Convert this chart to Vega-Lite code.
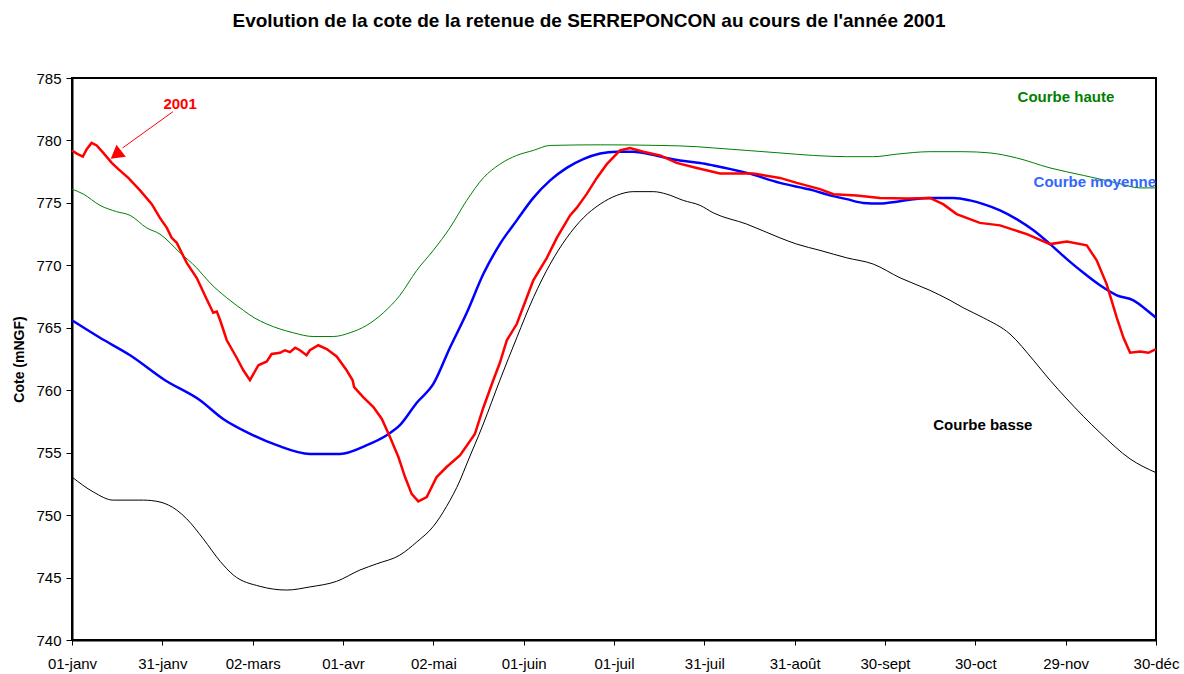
{
  "$schema": "https://vega.github.io/schema/vega-lite/v6.json",
  "width": 1084,
  "height": 562,
  "autosize": {"type": "none"},
  "padding": {"left": 72, "top": 78, "right": 28, "bottom": 34},
  "background": "white",
  "config": {
    "view": {"stroke": "black", "strokeWidth": 2},
    "font": "Liberation Sans",
    "axis": {"grid": false, "domainColor": "black", "domainWidth": 2, "tickColor": "black", "tickWidth": 1, "labelColor": "black", "labelFont": "Liberation Sans", "labelFontSize": 15, "titleFont": "Liberation Sans"}
  },
  "title": {
    "text": "Evolution de la cote de la retenue de SERREPONCON au cours de l'année 2001",
    "font": "Liberation Sans",
    "fontSize": 19,
    "fontWeight": "bold",
    "color": "black",
    "anchor": "middle",
    "dx": -25,
    "offset": 40
  },
  "datasets": {
    "curves": [
      {"series": "Courbe haute", "day": 0, "value": 776.1},
      {"series": "Courbe haute", "day": 3.8, "value": 775.7},
      {"series": "Courbe haute", "day": 9.3, "value": 774.8},
      {"series": "Courbe haute", "day": 14.8, "value": 774.3},
      {"series": "Courbe haute", "day": 19.3, "value": 774.0},
      {"series": "Courbe haute", "day": 24.8, "value": 773.0},
      {"series": "Courbe haute", "day": 29.2, "value": 772.5},
      {"series": "Courbe haute", "day": 35.9, "value": 771.0},
      {"series": "Courbe haute", "day": 41.4, "value": 769.8},
      {"series": "Courbe haute", "day": 45.8, "value": 768.6},
      {"series": "Courbe haute", "day": 51.4, "value": 767.4},
      {"series": "Courbe haute", "day": 56.9, "value": 766.4},
      {"series": "Courbe haute", "day": 60.5, "value": 765.8},
      {"series": "Courbe haute", "day": 64.7, "value": 765.3},
      {"series": "Courbe haute", "day": 73.5, "value": 764.6},
      {"series": "Courbe haute", "day": 80.1, "value": 764.3},
      {"series": "Courbe haute", "day": 86.8, "value": 764.3},
      {"series": "Courbe haute", "day": 92.3, "value": 764.6},
      {"series": "Courbe haute", "day": 97.9, "value": 765.2},
      {"series": "Courbe haute", "day": 103.4, "value": 766.2},
      {"series": "Courbe haute", "day": 108.9, "value": 767.6},
      {"series": "Courbe haute", "day": 114.5, "value": 769.6},
      {"series": "Courbe haute", "day": 120.0, "value": 771.2},
      {"series": "Courbe haute", "day": 125.5, "value": 773.0},
      {"series": "Courbe haute", "day": 131.1, "value": 775.2},
      {"series": "Courbe haute", "day": 136.6, "value": 777.0},
      {"series": "Courbe haute", "day": 142.1, "value": 778.1},
      {"series": "Courbe haute", "day": 147.7, "value": 778.8},
      {"series": "Courbe haute", "day": 153.2, "value": 779.2},
      {"series": "Courbe haute", "day": 158.8, "value": 779.6},
      {"series": "Courbe haute", "day": 175.4, "value": 779.65},
      {"series": "Courbe haute", "day": 195.3, "value": 779.6},
      {"series": "Courbe haute", "day": 207.5, "value": 779.5},
      {"series": "Courbe haute", "day": 213.0, "value": 779.4},
      {"series": "Courbe haute", "day": 224.1, "value": 779.2},
      {"series": "Courbe haute", "day": 235.1, "value": 779.0},
      {"series": "Courbe haute", "day": 246.2, "value": 778.8},
      {"series": "Courbe haute", "day": 257.3, "value": 778.7},
      {"series": "Courbe haute", "day": 266.1, "value": 778.7},
      {"series": "Courbe haute", "day": 273.9, "value": 778.9},
      {"series": "Courbe haute", "day": 284.9, "value": 779.1},
      {"series": "Courbe haute", "day": 296.0, "value": 779.1},
      {"series": "Courbe haute", "day": 304.9, "value": 779.0},
      {"series": "Courbe haute", "day": 313.7, "value": 778.6},
      {"series": "Courbe haute", "day": 324.8, "value": 777.8},
      {"series": "Courbe haute", "day": 335.9, "value": 777.2},
      {"series": "Courbe haute", "day": 347.0, "value": 776.6},
      {"series": "Courbe haute", "day": 354.7, "value": 776.2},
      {"series": "Courbe haute", "day": 360, "value": 776.2},

      {"series": "Courbe moyenne", "day": 0, "value": 765.6},
      {"series": "Courbe moyenne", "day": 9.3, "value": 764.2},
      {"series": "Courbe moyenne", "day": 19.3, "value": 762.8},
      {"series": "Courbe moyenne", "day": 30.9, "value": 760.8},
      {"series": "Courbe moyenne", "day": 42.5, "value": 759.2},
      {"series": "Courbe moyenne", "day": 50.2, "value": 757.7},
      {"series": "Courbe moyenne", "day": 58.0, "value": 756.65},
      {"series": "Courbe moyenne", "day": 68.0, "value": 755.6},
      {"series": "Courbe moyenne", "day": 79.0, "value": 754.9},
      {"series": "Courbe moyenne", "day": 89.0, "value": 754.9},
      {"series": "Courbe moyenne", "day": 97.9, "value": 755.6},
      {"series": "Courbe moyenne", "day": 104.5, "value": 756.4},
      {"series": "Courbe moyenne", "day": 108.9, "value": 757.2},
      {"series": "Courbe moyenne", "day": 114.5, "value": 759.0},
      {"series": "Courbe moyenne", "day": 120.0, "value": 760.5},
      {"series": "Courbe moyenne", "day": 125.5, "value": 763.4},
      {"series": "Courbe moyenne", "day": 131.1, "value": 766.2},
      {"series": "Courbe moyenne", "day": 136.6, "value": 769.3},
      {"series": "Courbe moyenne", "day": 142.1, "value": 771.7},
      {"series": "Courbe moyenne", "day": 147.7, "value": 773.6},
      {"series": "Courbe moyenne", "day": 153.2, "value": 775.4},
      {"series": "Courbe moyenne", "day": 158.8, "value": 776.8},
      {"series": "Courbe moyenne", "day": 164.3, "value": 777.8},
      {"series": "Courbe moyenne", "day": 169.8, "value": 778.5},
      {"series": "Courbe moyenne", "day": 175.4, "value": 778.95},
      {"series": "Courbe moyenne", "day": 180.9, "value": 779.1},
      {"series": "Courbe moyenne", "day": 186.4, "value": 779.1},
      {"series": "Courbe moyenne", "day": 192.0, "value": 778.9},
      {"series": "Courbe moyenne", "day": 197.5, "value": 778.6},
      {"series": "Courbe moyenne", "day": 201.9, "value": 778.4},
      {"series": "Courbe moyenne", "day": 208.6, "value": 778.2},
      {"series": "Courbe moyenne", "day": 213.0, "value": 778.0},
      {"series": "Courbe moyenne", "day": 224.1, "value": 777.4},
      {"series": "Courbe moyenne", "day": 235.1, "value": 776.6},
      {"series": "Courbe moyenne", "day": 246.2, "value": 776.0},
      {"series": "Courbe moyenne", "day": 251.7, "value": 775.6},
      {"series": "Courbe moyenne", "day": 257.3, "value": 775.3},
      {"series": "Courbe moyenne", "day": 262.8, "value": 775.0},
      {"series": "Courbe moyenne", "day": 268.3, "value": 774.95},
      {"series": "Courbe moyenne", "day": 273.9, "value": 775.1},
      {"series": "Courbe moyenne", "day": 279.4, "value": 775.3},
      {"series": "Courbe moyenne", "day": 284.9, "value": 775.4},
      {"series": "Courbe moyenne", "day": 292.7, "value": 775.4},
      {"series": "Courbe moyenne", "day": 298.2, "value": 775.2},
      {"series": "Courbe moyenne", "day": 302.7, "value": 774.9},
      {"series": "Courbe moyenne", "day": 308.2, "value": 774.4},
      {"series": "Courbe moyenne", "day": 313.7, "value": 773.7},
      {"series": "Courbe moyenne", "day": 319.3, "value": 772.8},
      {"series": "Courbe moyenne", "day": 324.8, "value": 771.7},
      {"series": "Courbe moyenne", "day": 330.4, "value": 770.5},
      {"series": "Courbe moyenne", "day": 335.9, "value": 769.4},
      {"series": "Courbe moyenne", "day": 341.4, "value": 768.4},
      {"series": "Courbe moyenne", "day": 347.0, "value": 767.6},
      {"series": "Courbe moyenne", "day": 352.5, "value": 767.2},
      {"series": "Courbe moyenne", "day": 358.0, "value": 766.2},
      {"series": "Courbe moyenne", "day": 360, "value": 765.8},

      {"series": "Courbe basse", "day": 0, "value": 753.05},
      {"series": "Courbe basse", "day": 7.1, "value": 751.85},
      {"series": "Courbe basse", "day": 13.7, "value": 751.2},
      {"series": "Courbe basse", "day": 23.7, "value": 751.2},
      {"series": "Courbe basse", "day": 29.2, "value": 751.05},
      {"series": "Courbe basse", "day": 34.8, "value": 750.4},
      {"series": "Courbe basse", "day": 38.1, "value": 749.7},
      {"series": "Courbe basse", "day": 43.6, "value": 748.1},
      {"series": "Courbe basse", "day": 49.2, "value": 746.3},
      {"series": "Courbe basse", "day": 53.6, "value": 745.2},
      {"series": "Courbe basse", "day": 62.4, "value": 744.3},
      {"series": "Courbe basse", "day": 71.3, "value": 744.0},
      {"series": "Courbe basse", "day": 79.0, "value": 744.25},
      {"series": "Courbe basse", "day": 87.9, "value": 744.7},
      {"series": "Courbe basse", "day": 95.6, "value": 745.6},
      {"series": "Courbe basse", "day": 101.2, "value": 746.1},
      {"series": "Courbe basse", "day": 108.9, "value": 746.8},
      {"series": "Courbe basse", "day": 114.5, "value": 747.85},
      {"series": "Courbe basse", "day": 120.0, "value": 749.1},
      {"series": "Courbe basse", "day": 124.4, "value": 750.7},
      {"series": "Courbe basse", "day": 128.9, "value": 752.8},
      {"series": "Courbe basse", "day": 131.1, "value": 754.1},
      {"series": "Courbe basse", "day": 136.6, "value": 757.3},
      {"series": "Courbe basse", "day": 142.1, "value": 760.8},
      {"series": "Courbe basse", "day": 147.7, "value": 764.2},
      {"series": "Courbe basse", "day": 153.2, "value": 767.4},
      {"series": "Courbe basse", "day": 158.8, "value": 770.1},
      {"series": "Courbe basse", "day": 164.3, "value": 772.2},
      {"series": "Courbe basse", "day": 169.8, "value": 773.8},
      {"series": "Courbe basse", "day": 175.4, "value": 774.9},
      {"series": "Courbe basse", "day": 180.9, "value": 775.6},
      {"series": "Courbe basse", "day": 186.4, "value": 775.9},
      {"series": "Courbe basse", "day": 193.1, "value": 775.9},
      {"series": "Courbe basse", "day": 197.5, "value": 775.7},
      {"series": "Courbe basse", "day": 203.0, "value": 775.2},
      {"series": "Courbe basse", "day": 208.6, "value": 774.8},
      {"series": "Courbe basse", "day": 213.0, "value": 774.2},
      {"series": "Courbe basse", "day": 224.1, "value": 773.3},
      {"series": "Courbe basse", "day": 235.1, "value": 772.2},
      {"series": "Courbe basse", "day": 240.7, "value": 771.7},
      {"series": "Courbe basse", "day": 248.4, "value": 771.2},
      {"series": "Courbe basse", "day": 257.3, "value": 770.6},
      {"series": "Courbe basse", "day": 266.1, "value": 770.1},
      {"series": "Courbe basse", "day": 275.0, "value": 769.0},
      {"series": "Courbe basse", "day": 284.9, "value": 768.0},
      {"series": "Courbe basse", "day": 291.6, "value": 767.2},
      {"series": "Courbe basse", "day": 296.0, "value": 766.6},
      {"series": "Courbe basse", "day": 302.7, "value": 765.8},
      {"series": "Courbe basse", "day": 311.5, "value": 764.5},
      {"series": "Courbe basse", "day": 319.3, "value": 762.4},
      {"series": "Courbe basse", "day": 324.8, "value": 760.8},
      {"series": "Courbe basse", "day": 330.4, "value": 759.3},
      {"series": "Courbe basse", "day": 341.4, "value": 756.6},
      {"series": "Courbe basse", "day": 351.4, "value": 754.5},
      {"series": "Courbe basse", "day": 360, "value": 753.4},

      {"series": "2001", "day": 0, "value": 779.2},
      {"series": "2001", "day": 1.6, "value": 778.95},
      {"series": "2001", "day": 3.6, "value": 778.7},
      {"series": "2001", "day": 4.9, "value": 779.3},
      {"series": "2001", "day": 6.5, "value": 779.8},
      {"series": "2001", "day": 8.2, "value": 779.6},
      {"series": "2001", "day": 10.4, "value": 779.0},
      {"series": "2001", "day": 13.2, "value": 778.2},
      {"series": "2001", "day": 15.4, "value": 777.7},
      {"series": "2001", "day": 18.7, "value": 777.0},
      {"series": "2001", "day": 22.6, "value": 776.0},
      {"series": "2001", "day": 26.5, "value": 774.9},
      {"series": "2001", "day": 29.2, "value": 773.8},
      {"series": "2001", "day": 31.5, "value": 773.0},
      {"series": "2001", "day": 33.1, "value": 772.2},
      {"series": "2001", "day": 34.8, "value": 771.8},
      {"series": "2001", "day": 38.1, "value": 770.2},
      {"series": "2001", "day": 41.4, "value": 769.0},
      {"series": "2001", "day": 44.7, "value": 767.3},
      {"series": "2001", "day": 46.9, "value": 766.2},
      {"series": "2001", "day": 48.1, "value": 766.3},
      {"series": "2001", "day": 49.2, "value": 765.6},
      {"series": "2001", "day": 51.4, "value": 764.0},
      {"series": "2001", "day": 54.7, "value": 762.6},
      {"series": "2001", "day": 56.9, "value": 761.6},
      {"series": "2001", "day": 59.1, "value": 760.8},
      {"series": "2001", "day": 61.9, "value": 762.0},
      {"series": "2001", "day": 64.7, "value": 762.3},
      {"series": "2001", "day": 66.3, "value": 762.9},
      {"series": "2001", "day": 69.1, "value": 763.0},
      {"series": "2001", "day": 70.7, "value": 763.2},
      {"series": "2001", "day": 72.4, "value": 763.05},
      {"series": "2001", "day": 74.1, "value": 763.4},
      {"series": "2001", "day": 75.7, "value": 763.2},
      {"series": "2001", "day": 77.9, "value": 762.8},
      {"series": "2001", "day": 79.0, "value": 763.2},
      {"series": "2001", "day": 81.8, "value": 763.6},
      {"series": "2001", "day": 84.6, "value": 763.3},
      {"series": "2001", "day": 87.9, "value": 762.7},
      {"series": "2001", "day": 91.2, "value": 761.6},
      {"series": "2001", "day": 93.2, "value": 760.8},
      {"series": "2001", "day": 93.7, "value": 760.25},
      {"series": "2001", "day": 96.7, "value": 759.45},
      {"series": "2001", "day": 100.1, "value": 758.65},
      {"series": "2001", "day": 102.9, "value": 757.7},
      {"series": "2001", "day": 105.6, "value": 756.25},
      {"series": "2001", "day": 108.4, "value": 754.65},
      {"series": "2001", "day": 110.6, "value": 753.05},
      {"series": "2001", "day": 112.8, "value": 751.7},
      {"series": "2001", "day": 115.0, "value": 751.1},
      {"series": "2001", "day": 117.8, "value": 751.45},
      {"series": "2001", "day": 121.1, "value": 753.05},
      {"series": "2001", "day": 124.4, "value": 753.85},
      {"series": "2001", "day": 128.9, "value": 754.8},
      {"series": "2001", "day": 133.8, "value": 756.5},
      {"series": "2001", "day": 136.6, "value": 758.6},
      {"series": "2001", "day": 139.9, "value": 760.8},
      {"series": "2001", "day": 142.1, "value": 762.2},
      {"series": "2001", "day": 144.4, "value": 764.0},
      {"series": "2001", "day": 147.7, "value": 765.3},
      {"series": "2001", "day": 151.0, "value": 767.4},
      {"series": "2001", "day": 153.2, "value": 768.8},
      {"series": "2001", "day": 157.7, "value": 770.6},
      {"series": "2001", "day": 161.0, "value": 772.2},
      {"series": "2001", "day": 165.4, "value": 774.0},
      {"series": "2001", "day": 167.6, "value": 774.6},
      {"series": "2001", "day": 170.9, "value": 775.7},
      {"series": "2001", "day": 174.3, "value": 777.0},
      {"series": "2001", "day": 177.6, "value": 778.1},
      {"series": "2001", "day": 182.0, "value": 779.2},
      {"series": "2001", "day": 185.3, "value": 779.4},
      {"series": "2001", "day": 189.7, "value": 779.1},
      {"series": "2001", "day": 195.3, "value": 778.8},
      {"series": "2001", "day": 200.8, "value": 778.2},
      {"series": "2001", "day": 207.5, "value": 777.8},
      {"series": "2001", "day": 215.2, "value": 777.35},
      {"series": "2001", "day": 226.3, "value": 777.35},
      {"series": "2001", "day": 235.1, "value": 777.0},
      {"series": "2001", "day": 240.7, "value": 776.6},
      {"series": "2001", "day": 248.4, "value": 776.1},
      {"series": "2001", "day": 252.9, "value": 775.7},
      {"series": "2001", "day": 260.6, "value": 775.6},
      {"series": "2001", "day": 268.3, "value": 775.4},
      {"series": "2001", "day": 277.2, "value": 775.35},
      {"series": "2001", "day": 284.9, "value": 775.4},
      {"series": "2001", "day": 289.3, "value": 774.9},
      {"series": "2001", "day": 293.8, "value": 774.1},
      {"series": "2001", "day": 298.2, "value": 773.7},
      {"series": "2001", "day": 301.5, "value": 773.4},
      {"series": "2001", "day": 308.2, "value": 773.2},
      {"series": "2001", "day": 317.1, "value": 772.5},
      {"series": "2001", "day": 324.8, "value": 771.7},
      {"series": "2001", "day": 330.4, "value": 771.9},
      {"series": "2001", "day": 337.0, "value": 771.6},
      {"series": "2001", "day": 340.3, "value": 770.4},
      {"series": "2001", "day": 343.6, "value": 768.5},
      {"series": "2001", "day": 347.0, "value": 765.8},
      {"series": "2001", "day": 349.2, "value": 764.2},
      {"series": "2001", "day": 351.4, "value": 763.0},
      {"series": "2001", "day": 354.7, "value": 763.1},
      {"series": "2001", "day": 357.5, "value": 763.0},
      {"series": "2001", "day": 360, "value": 763.3}
    ],
    "labels": [
      {"label": "2001", "day": 35.9, "value": 782.9},
      {"label": "Courbe haute", "day": 330.1, "value": 783.5},
      {"label": "Courbe moyenne", "day": 339.7, "value": 776.7},
      {"label": "Courbe basse", "day": 302.5, "value": 757.2}
    ],
    "arrow": [
      {"day": 33.5, "value": 782.3, "day2": 16.8, "value2": 779.4}
    ],
    "arrowhead": [
      {"day": 14.6, "value": 778.85}
    ]
  },
  "encoding": {
    "x": {
      "field": "day",
      "type": "quantitative",
      "scale": {"domain": [0, 360], "nice": false, "zero": false},
      "axis": {
        "title": null,
        "values": [0, 30, 60, 90, 120, 150, 180, 210, 240, 270, 300, 330, 360],
        "labelExpr": "['01-janv','31-janv','02-mars','01-avr','02-mai','01-juin','01-juil','31-juil','31-août','30-sept','30-oct','29-nov','30-déc'][round(datum.value/30)]",
        "tickSize": 5,
        "labelPadding": 11,
        "labelFlush": false,
        "labelOverlap": false
      }
    },
    "y": {
      "field": "value",
      "type": "quantitative",
      "scale": {"domain": [740, 785], "nice": false, "zero": false},
      "axis": {
        "title": "Cote (mNGF)",
        "titleFontSize": 14,
        "titleFontWeight": "bold",
        "titleColor": "black",
        "titlePadding": 9,
        "values": [740, 745, 750, 755, 760, 765, 770, 775, 780, 785],
        "tickSize": 6,
        "labelPadding": 5
      }
    }
  },
  "layer": [
    {
      "data": {"name": "curves"},
      "transform": [{"filter": "datum.series === 'Courbe basse'"}],
      "mark": {"type": "line", "color": "black", "strokeWidth": 1, "interpolate": "monotone"}
    },
    {
      "data": {"name": "curves"},
      "transform": [{"filter": "datum.series === 'Courbe haute'"}],
      "mark": {"type": "line", "color": "#008000", "strokeWidth": 1, "interpolate": "monotone"}
    },
    {
      "data": {"name": "curves"},
      "transform": [{"filter": "datum.series === 'Courbe moyenne'"}],
      "mark": {"type": "line", "color": "#0000ff", "strokeWidth": 2.5, "interpolate": "monotone"}
    },
    {
      "data": {"name": "curves"},
      "transform": [{"filter": "datum.series === '2001'"}],
      "mark": {"type": "line", "color": "#ff0000", "strokeWidth": 2.5}
    },
    {
      "data": {"name": "arrow"},
      "mark": {"type": "rule", "color": "#ff0000", "strokeWidth": 1},
      "encoding": {
        "x2": {"field": "day2"},
        "y2": {"field": "value2"}
      }
    },
    {
      "data": {"name": "arrowhead"},
      "mark": {"type": "point", "shape": "triangle-up", "filled": true, "color": "#ff0000", "opacity": 1, "size": 230, "angle": 232}
    },
    {
      "data": {"name": "labels"},
      "mark": {"type": "text", "font": "Liberation Sans", "fontSize": 15, "fontWeight": "bold", "align": "center", "baseline": "middle"},
      "encoding": {
        "text": {"field": "label"},
        "color": {
          "field": "label",
          "type": "nominal",
          "scale": {"domain": ["2001", "Courbe haute", "Courbe moyenne", "Courbe basse"], "range": ["#ff0000", "#008000", "#3366ff", "#000000"]},
          "legend": null
        }
      }
    }
  ]
}
